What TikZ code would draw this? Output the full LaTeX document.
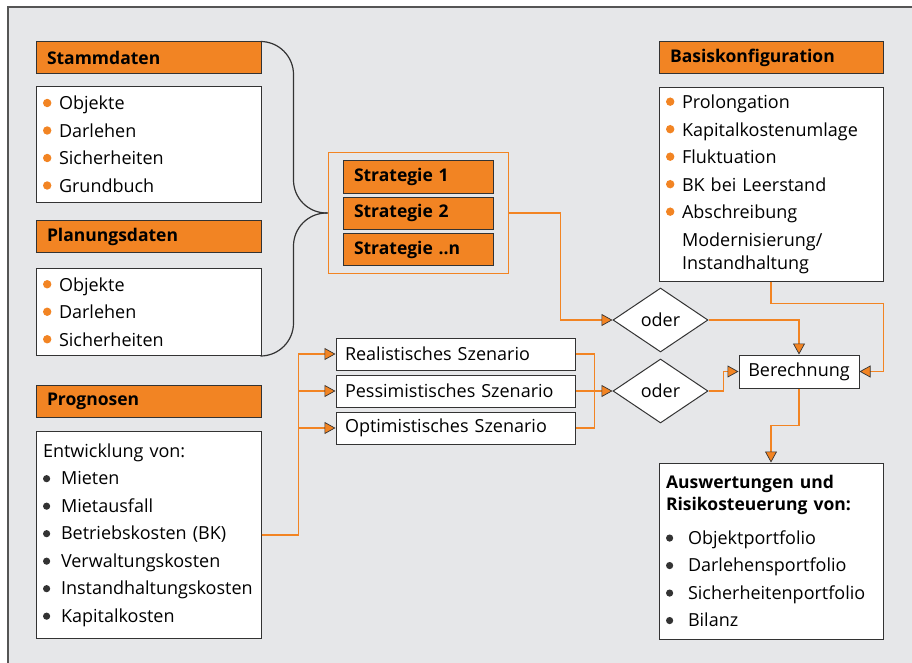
\documentclass[tikz,border=0pt]{standalone}
\usepackage{fontspec}
\setmainfont{Open Sans}
\usepackage{tikz}
\usetikzlibrary{shapes.geometric, arrows.meta, positioning}
\definecolor{orangeC}{HTML}{F28423}
\definecolor{lineC}{HTML}{333333}
\definecolor{bgC}{HTML}{E6E7E9}
\definecolor{frameC}{HTML}{555555}
\newcommand{\obul}{\makebox[16pt][l]{\tikz[baseline=-7pt]\fill[orangeC] (4pt,0pt) circle[radius=4.2pt];}}
\newcommand{\bbul}[1][18pt]{\makebox[#1][l]{\tikz[baseline=-6pt]\fill[lineC] (4.5pt,0pt) circle[radius=3.6pt];}}
\newcommand{\txtfont}{\fontsize{18}{27.5}\selectfont\hyphenpenalty=10000 }
\newcommand{\hdfont}{\fontsize{17.5}{22}\selectfont\bfseries}
\tikzstyle{head} = [rectangle, draw=lineC, fill=orangeC, line width=1pt, minimum width=225pt, minimum height=32pt, text width=203pt, inner xsep=11pt, align=left, font=\hdfont]
\tikzstyle{listbox} = [rectangle, draw=lineC, fill=white, line width=1pt, text width=211pt, inner xsep=7pt, inner ysep=6pt, align=left, font=\txtfont]
\tikzstyle{scen} = [rectangle, draw=lineC, fill=white, line width=1pt, minimum width=239pt, minimum height=32pt, text width=221pt, inner xsep=9pt, align=left, font=\txtfont]
\tikzstyle{decision} = [diamond, draw=lineC, fill=white, line width=1pt, minimum width=95pt, minimum height=64pt, inner sep=1pt, font=\txtfont]
\tikzstyle{oline} = [draw=orangeC, line width=1.4pt]
\tikzstyle{arrow} = [oline, -{Triangle[length=11pt, width=12pt, line width'=0.7pt, color=lineC, fill=orangeC]}]

\begin{document}
\begin{tikzpicture}[x=1pt, y=-1pt]
    \useasboundingbox (0,0) rectangle (912,663);
    \fill[bgC] (8,7) rectangle (912,663);
    \draw[frameC, line width=2pt] (8,663) -- (8,7) -- (912,7);

    % data inputs on the left
    \node (stammHead) [head] at (148.5,58) {Stammdaten};
    \node (stammList) [listbox, minimum height=115pt, below=12pt of stammHead] {\obul Objekte\\ \obul Darlehen\\ \obul Sicherheiten\\ \obul Grundbuch};
    \node (planHead) [head] at (148.5,236.5) {Planungsdaten};
    \node (planList) [listbox, minimum height=87pt, below=15pt of planHead] {\obul Objekte\\ \obul Darlehen\\ \obul Sicherheiten};
    \node (progHead) [head] at (148.5,401.5) {Prognosen};
    \node (progList) [listbox, minimum height=207pt, below=13pt of progHead] {Entwicklung von:\\ \bbul Mieten\\ \bbul Mietausfall\\ \bbul Betriebskosten (BK)\\ \bbul Verwaltungskosten\\ \bbul Instandhaltungskosten\\ \bbul Kapitalkosten};

    % strategies
    \node (stratBox) [rectangle, draw=orangeC, line width=1pt, minimum width=180pt, minimum height=120pt] at (418,213) {};
    \node (strat1) [head, minimum width=150pt, text width=128pt] at (418,177) {Strategie 1};
    \node (strat2) [head, minimum width=150pt, text width=128pt] at (418,213) {Strategie 2};
    \node (stratN) [head, minimum width=150pt, text width=128pt] at (418,249.5) {Strategie ..n};

    % scenarios
    \node (real) [scen] at (455.5,354) {Realistisches Szenario};
    \node (pess) [scen] at (455.5,391) {Pessimistisches Szenario};
    \node (opt) [scen] at (455.5,428) {Optimistisches Szenario};

    % right column
    \node (basisHead) [head, minimum width=224pt, text width=202pt] at (771,58) {Basiskonfiguration};
    \node (basisList) [listbox, minimum height=193pt, text width=210pt, below=13pt of basisHead] {\obul Prolongation\\ \obul Kapitalkostenumlage\\ \obul Fluktuation\\ \obul BK bei Leerstand\\ \obul Abschreibung\\ \hspace*{16pt}Modernisierung/\\[-4pt] \hspace*{16pt}Instandhaltung};
    \node (oder1) [decision] at (660.5,320) {oder};
    \node (oder2) [decision] at (660.5,391) {oder};
    \node (calc) [rectangle, draw=lineC, fill=white, line width=1pt, minimum width=120pt, minimum height=33pt, font=\txtfont] at (799,371.5) {Berechnung};
    \node (result) [listbox, minimum height=176pt, text width=210pt] at (771,551) {{\hdfont Auswertungen und\\[-5.5pt] Risikosteuerung von:}\\[6pt] \bbul[16pt] Objektportfolio\\ \bbul[16pt] Darlehensportfolio\\ \bbul[16pt] Sicherheitenportfolio\\ \bbul[16pt] Bilanz};

    % brace
    \draw [lineC, line width=1.2pt, rounded corners=33pt] (stammHead.north east) -| ([xshift=-34pt]stratBox.west) -- (stratBox.west);
    \draw [lineC, line width=1.2pt, rounded corners=33pt] (stratBox.west) -- ([xshift=-34pt]stratBox.west) |- (planList.south east);

    % connectors
    \draw [arrow] (stratBox.east) -- ++(52,0) |- (oder1.west);
    \draw [arrow] (progList.east) -- ++(37,0) |- (real.west);
    \draw [arrow] (progList.east) -- ++(37,0) |- (pess.west);
    \draw [arrow] (progList.east) -- ++(37,0) |- (opt.west);
    \draw [oline] (real.east) -- ++(19,0) |- (opt.east);
    \draw [arrow] (pess.east) -- (oder2.west);
    \draw [arrow] (oder1.east) -| (calc.north);
    \draw [arrow] (oder2.east) -- ++(15,0) |- (calc.west);
    \draw [arrow] (basisList.south) -- ++(0,22) -| ([xshift=24pt]calc.east) -- (calc.east);
    \draw [arrow] (calc.south) -- ++(0,37) -| (result.north);
\end{tikzpicture}
\end{document}
